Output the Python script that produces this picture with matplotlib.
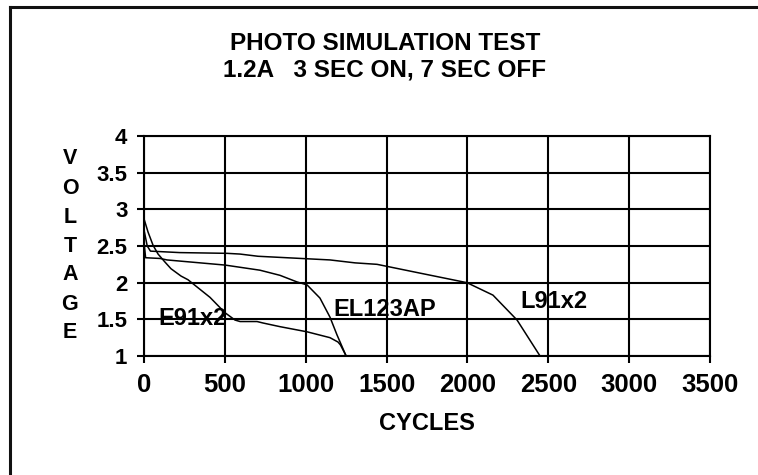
"""Photo simulation discharge test: voltage vs. cycles for three cell types."""

import matplotlib
matplotlib.use("Agg")
import matplotlib.pyplot as plt
from matplotlib.lines import Line2D

# ---------------------------------------------------------------------------
# Data
# ---------------------------------------------------------------------------
E91X2_CYCLES = [0, 25, 56, 87, 130, 167, 229, 272, 408, 501, 563, 594, 699,
                736, 841, 1008, 1150, 1200, 1215, 1250]
E91X2_VOLTS = [2.87, 2.69, 2.51, 2.39, 2.28, 2.19, 2.09, 2.04, 1.80, 1.59,
               1.49, 1.47, 1.47, 1.45, 1.40, 1.33, 1.25, 1.19, 1.15, 1.0]

EL123AP_CYCLES = [0, 10, 100, 142, 501, 717, 841, 946, 1008, 1088, 1150, 1193, 1250]
EL123AP_VOLTS = [2.55, 2.34, 2.33, 2.31, 2.24, 2.17, 2.10, 2.01, 1.97, 1.79,
                 1.53, 1.29, 1.0]

L91X2_CYCLES = [0, 20, 40, 222, 513, 594, 705, 1150, 1305, 1441, 1707, 1997,
                2158, 2307, 2449]
L91X2_VOLTS = [2.72, 2.50, 2.43, 2.41, 2.40, 2.39, 2.36, 2.31, 2.27, 2.25,
               2.13, 2.00, 1.83, 1.49, 1.0]

SERIES_NAMES = ["E91x2", "EL123AP", "L91x2"]
LABEL_POSITIONS = [(87, 1.51), (1169, 1.64), (2325, 1.74)]

X_TICKS = [0, 500, 1000, 1500, 2000, 2500, 3000, 3500]
Y_TICKS = [1, 1.5, 2, 2.5, 3, 3.5, 4]
Y_TICK_LABELS = ["1", "1.5", "2", "2.5", "3", "3.5", "4"]

TITLE = "PHOTO SIMULATION TEST\n1.2A   3 SEC ON, 7 SEC OFF"
X_LABEL = "CYCLES"
Y_LABEL = "VOLTAGE"

# ---------------------------------------------------------------------------
# Style
# ---------------------------------------------------------------------------
FONT = ["Liberation Sans", "DejaVu Sans"]
INK = "#000000"
GRID_WIDTH = 1.5
CURVE_WIDTH = 1.1

plt.rcParams["font.family"] = FONT
plt.rcParams["font.weight"] = "bold"


def main() -> None:
    figure = plt.figure(figsize=(7.58, 4.75), dpi=100, facecolor="white")
    axis = figure.add_axes([144 / 758, 1 - 356 / 475, 566 / 758, 220 / 475])

    for cycles, volts in [(E91X2_CYCLES, E91X2_VOLTS),
                          (EL123AP_CYCLES, EL123AP_VOLTS),
                          (L91X2_CYCLES, L91X2_VOLTS)]:
        axis.plot(cycles, volts, color=INK, linewidth=CURVE_WIDTH, zorder=3)

    for name, (x, y) in zip(SERIES_NAMES, LABEL_POSITIONS):
        axis.text(x, y, name, ha="left", va="center", fontsize=17,
                  weight="bold", color=INK, zorder=4)

    axis.set_xlim(0, 3500)
    axis.set_ylim(1, 4)
    axis.set_xticks(X_TICKS)
    axis.set_yticks(Y_TICKS)
    axis.set_yticklabels(Y_TICK_LABELS)
    axis.grid(True, color=INK, linewidth=GRID_WIDTH, zorder=1)
    axis.set_axisbelow(True)
    for spine in axis.spines.values():
        spine.set_color(INK)
        spine.set_linewidth(GRID_WIDTH)

    axis.tick_params(axis="both", direction="out", length=5, width=GRID_WIDTH,
                     color=INK)
    axis.tick_params(axis="x", labelsize=18.5, pad=7)
    axis.tick_params(axis="y", labelsize=16, pad=7)
    for label in axis.get_xticklabels() + axis.get_yticklabels():
        label.set_fontweight("bold")

    axis.set_xlabel(X_LABEL, fontsize=17, weight="bold", labelpad=11)

    # Stacked vertical axis title, one letter per line.
    figure.text(70 / 758, 1 - 246 / 475, "\n".join(Y_LABEL), ha="center",
                va="center", fontsize=15.5, weight="bold", linespacing=1.5)

    figure.text(385 / 758, 1 - 57 / 475, TITLE, ha="center", va="center",
                fontsize=17.5, weight="bold", linespacing=1.22)

    # Frame fragments along the left and top edges of the picture.
    figure.add_artist(Line2D([10 / 758, 10 / 758], [0, 1 - 7 / 475],
                             color="#111111", linewidth=2.2,
                             transform=figure.transFigure))
    figure.add_artist(Line2D([10 / 758, 1], [1 - 7 / 475, 1 - 7 / 475],
                             color="#111111", linewidth=2.2,
                             transform=figure.transFigure))

    figure.savefig("out.png", dpi=100, facecolor="white")
    plt.close(figure)


if __name__ == "__main__":
    main()
